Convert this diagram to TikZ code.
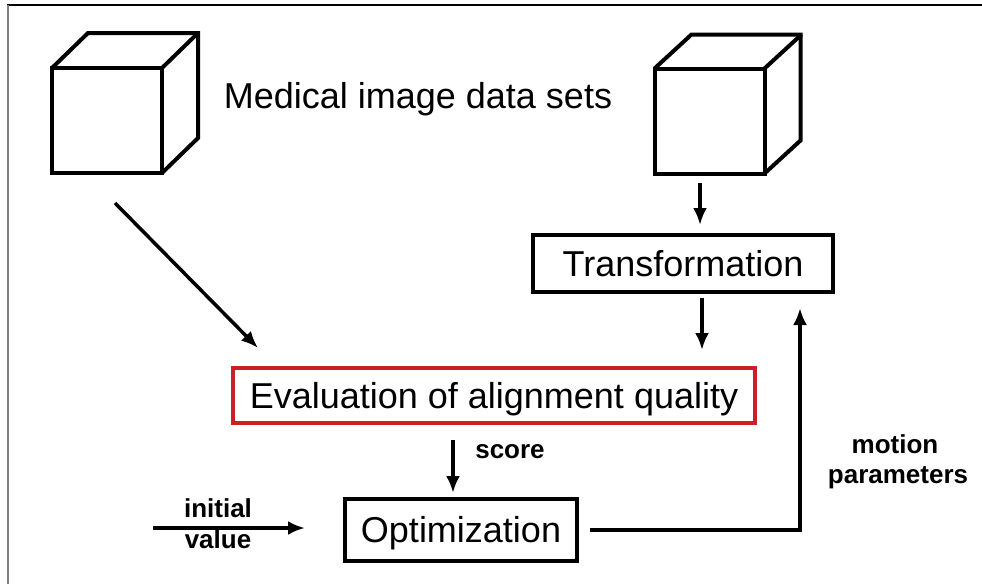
\documentclass[tikz,border=0pt]{standalone}
\usepackage{fontspec}
\setmainfont{Liberation Sans}
\usepackage{xcolor}
\usetikzlibrary{arrows.meta}
\definecolor{evalred}{RGB}{204,32,39}

\begin{document}
\begin{tikzpicture}[x=1pt,y=-1pt,
    cube/.style={draw, line width=4pt, outer sep=0pt, inner sep=0pt, minimum width=110pt, minimum height=105pt},
    box/.style={draw, line width=3.5pt, outer sep=0pt, inner sep=0pt, text height=25.8pt, text depth=0pt, font=\fontsize{36}{40}\selectfont},
    lbl/.style={anchor=base, inner sep=0pt, font=\fontsize{26}{30}\selectfont\bfseries},
    arr/.style={-{Latex[length=17pt,width=14pt]}, line width=3.5pt}]
    \useasboundingbox (0,0) rectangle (982,584);
    \draw[line width=2pt] (7,5) -- (982,5);
    \draw[line width=2pt,color=gray] (8,5) -- (8,584);

    % the two data sets
    \node[cube] (cubeL) at (107,120.5) {};
    \draw[line width=4pt, line join=miter] (cubeL.north west) -- ++(36,-35) -- ++(110,0) -- ++(0,105) -- (cubeL.south east);
    \draw[line width=4pt] (cubeL.north east) -- ++(36,-35);
    \node[cube] (cubeR) at (709.5,121) {};
    \draw[line width=4pt, line join=miter] (cubeR.north west) -- ++(37,-34) -- ++(109,0) -- ++(0,106) -- (cubeR.south east);
    \draw[line width=4pt] (cubeR.north east) -- ++(37,-34);
    \node[anchor=base, inner sep=0pt, font=\fontsize{36}{40}\selectfont] (title) at (418,108) {Medical image data sets};

    % blocks
    \node[box, minimum width=300pt, minimum height=57pt] (trans) at (683,263.5) {Transformation};
    \node[box, color=evalred, text=black, minimum width=522pt, minimum height=55pt] (eval) at (494,395.5) {Evaluation of alignment quality};
    \node[box, minimum width=232pt, minimum height=62pt] (opt) at (461,530) {Optimization};

    % labels
    \node[lbl] (score) at (510,458) {score};
    \node[lbl] (initial) at (218,517) {initial};
    \node[lbl] (value) at (218,548) {value};
    \node[lbl] (motion) at (895,453) {motion};
    \node[lbl] (params) at (898,483) {parameters};

    % connectors
    \coordinate (diagA) at (115,203);
    \coordinate (diagB) at (258,348);
    \coordinate (init) at (153,528);
    \draw[arr, shorten <=9pt, shorten >=10pt] ([xshift=-9.5pt]cubeR.south) -- ([xshift=17pt]trans.north);
    \draw[arr, shorten <=6pt, shorten >=18pt] ([xshift=19pt]trans.south) -- ([xshift=208pt]eval.north);
    \draw[arr] (diagA) -- (diagB);
    \draw[arr, shorten <=17pt, shorten >=6pt] ([xshift=-41pt]eval.south) -- ([xshift=-8pt]opt.north);
    \draw[arr, shorten >=40pt] (init) -- (init -| opt.west);
    \draw[arr, shorten <=13pt, shorten >=16pt] (opt.east) -| ([xshift=117pt]trans.south);
\end{tikzpicture}
\end{document}
